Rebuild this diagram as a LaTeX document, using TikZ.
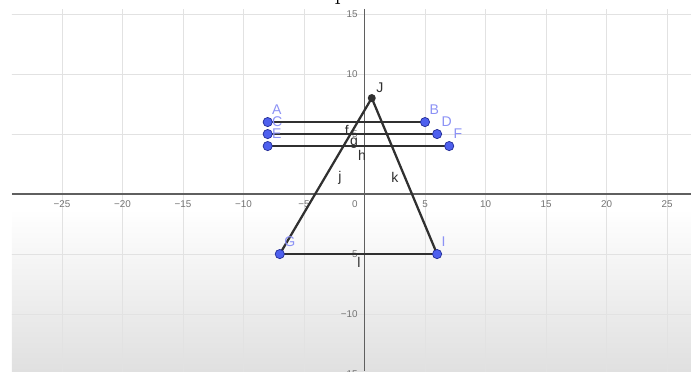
\documentclass[tikz,border=0pt]{standalone}
\usepackage{fontspec}
\newfontfamily\geofont{Liberation Sans}
\usetikzlibrary{positioning}
\definecolor{GeoInk}{RGB}{48,48,48}
\definecolor{GeoAxis}{RGB}{95,95,95}
\definecolor{GeoGrid}{RGB}{226,226,226}
\definecolor{GeoTick}{RGB}{115,115,115}
\definecolor{GeoBlue}{RGB}{78,96,238}
\definecolor{GeoBlueDark}{RGB}{35,45,150}
\definecolor{GeoLabel}{RGB}{140,146,245}
\definecolor{GeoShade}{RGB}{224,224,224}
\tikzset{
  geo/grid/.style={draw=GeoGrid, line width=0.5pt},
  geo/axis/.style={draw=GeoAxis, line width=1pt},
  geo/seg/.style={draw=GeoInk, line width=1.6pt, line cap=round},
  geo/point/.style={
    circle,
    draw=GeoBlueDark,
    line width=0.5pt,
    fill=GeoBlue,
    minimum size=0.23cm,
    inner sep=0pt
  },
  geo/apex/.style={circle, fill=GeoInk, minimum size=0.2cm, inner sep=0pt},
  geo/ptlabel/.style={font=\geofont\fontsize{10}{10}\selectfont, text=GeoLabel, inner sep=0pt},
  geo/seglabel/.style={font=\geofont\fontsize{10}{10}\selectfont, text=GeoInk, inner sep=0pt},
  geo/tick/.style={font=\geofont\fontsize{7}{7}\selectfont, text=GeoTick, inner sep=0pt}
}
\begin{document}
\begin{tikzpicture}[x=0.3025cm,y=0.3cm]
  \useasboundingbox (-30.12,-14.75) rectangle (26.98,16.17);
  % graphics view
  \begin{scope}
    \clip (-29.13,-14.75) rectangle (26.98,15.42);
    \shade[top color=white, bottom color=GeoShade] (-29.13,-1.2) rectangle (26.98,-14.75);
    \draw[geo/grid, step=5] (-30,-15) grid (30,15.42);
    \draw[geo/axis] (-29.13,0) -- (26.98,0);
    \draw[geo/axis] (0,15.42) -- (0,-14.75);
    \foreach \v/\t in {-30/−30,-25/−25,-20/−20,-15/−15,-10/−10,-5/−5,5/5,10/10,15/15,20/20,25/25}
      \node[geo/tick] (xlab\v) at (\v,-0.83) {\t};
    \foreach \v/\t in {15/15,10/10,5/5,-5/−5,-10/−10,-15/−15}
      \node[geo/tick, anchor=east] (ylab\v) at (-0.54,\v) {\t};
    \node[geo/tick, anchor=east] (origin) at (-0.54,-0.83) {0};
  \end{scope}
  \node[font=\fontsize{18}{18}\selectfont, anchor=base west, inner sep=0pt] (titlecut) at (-2.5,16.17) {p};
  % points
  \coordinate (A) at (-8,6);
  \coordinate (B) at (5,6);
  \coordinate (C) at (-8,5);
  \coordinate (D) at (6,5);
  \coordinate (E) at (-8,4);
  \coordinate (F) at (7,4);
  \coordinate (G) at (-7,-5);
  \coordinate (I) at (6,-5);
  \coordinate (J) at (0.6,8);
  % segments
  \draw[geo/seg] (A) -- (B);
  \draw[geo/seg] (C) -- (D);
  \draw[geo/seg] (E) -- (F);
  \draw[geo/seg] (J) -- (G);
  \draw[geo/seg] (J) -- (I);
  \draw[geo/seg] (G) -- (I);
  \node[geo/seglabel] (f) at (-1.45,5.33) {f};
  \node[geo/seglabel] (g) at (-0.87,4.25) {g};
  \node[geo/seglabel] (h) at (-0.21,3.25) {h};
  \node[geo/seglabel] (j) at (-2.02,1.33) {j};
  \node[geo/seglabel] (k) at (2.52,1.42) {k};
  \node[geo/seglabel] (l) at (-0.45,-5.67) {l};
  % dots and their labels
  \node[geo/point] (dotA) at (A) {};
  \node[geo/point] (dotB) at (B) {};
  \node[geo/point] (dotC) at (C) {};
  \node[geo/point] (dotD) at (D) {};
  \node[geo/point] (dotE) at (E) {};
  \node[geo/point] (dotF) at (F) {};
  \node[geo/point] (dotG) at (G) {};
  \node[geo/point] (dotI) at (I) {};
  \node[geo/apex] (dotJ) at (J) {};
  \node[geo/ptlabel, above right=5pt and 3pt of A] (lblA) {A};
  \node[geo/ptlabel, above right=5pt and 3pt of B] (lblB) {B};
  \node[geo/ptlabel, above right=5pt and 3pt of C] (lblC) {C};
  \node[geo/ptlabel, above right=5pt and 3pt of D] (lblD) {D};
  \node[geo/ptlabel, above right=5pt and 3pt of E] (lblE) {E};
  \node[geo/ptlabel, above right=5pt and 3pt of F] (lblF) {F};
  \node[geo/ptlabel, above right=5pt and 3pt of G] (lblG) {G};
  \node[geo/ptlabel, above right=5pt and 3pt of I] (lblI) {I};
  \node[geo/seglabel, above right=4pt and 3pt of J] (lblJ) {J};
\end{tikzpicture}
\end{document}
